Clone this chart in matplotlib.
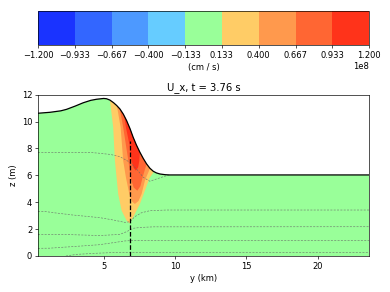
import numpy as np
import matplotlib
matplotlib.use("Agg")
import matplotlib.pyplot as plt
from matplotlib.colors import ListedColormap, BoundaryNorm
from matplotlib.patches import Polygon
import matplotlib.cm as cm

# contour levels of U_x (cm/s) and their fill colours
levels = np.linspace(-1.2e8, 1.2e8, 10)
level_colors = ['#1a33ff', '#3366ff', '#4d99ff', '#66ccff', '#99ff99',
                '#ffcc66', '#ff994d', '#ff6633', '#ff331a']

# free surface
surf_y = [0.4, 1.24, 2.0, 2.4, 3.0, 3.57, 4.1, 4.5, 5.0, 5.2, 5.44, 5.7, 5.91, 6.14,
          6.38, 6.61, 6.85, 7.07, 7.3, 7.54, 7.78, 8.01, 8.24, 8.48, 8.7, 8.95, 9.3,
          9.6, 23.6]
surf_z = [10.62, 10.69, 10.8, 10.91, 11.15, 11.4, 11.58, 11.66, 11.72, 11.7, 11.6, 11.4,
          11.2, 10.94, 10.55, 10.07, 9.47, 8.83, 8.25, 7.72, 7.25, 6.85, 6.53, 6.3, 6.18,
          6.1, 6.05, 6.03, 6.03]

# outlines of the positive-velocity contour bands
yellow_y = [5.44, 5.67, 5.79, 6.02, 6.26, 6.61, 6.8, 7.07, 7.54, 7.89, 8.24, 8.48]
yellow_z = [11.6, 9.57, 7.09, 4.61, 3.37, 2.63, 2.43, 2.88, 3.87, 4.86, 5.85, 6.2]
orange_y = [5.91, 6.19, 6.37, 6.56, 6.8, 7.0, 7.19, 7.45, 7.66, 7.89, 8.24]
orange_z = [11.3, 9.57, 7.09, 5.85, 4.61, 4.05, 3.87, 4.1, 4.61, 5.6, 6.5]
dorange_y = [6.14, 6.37, 6.73, 6.89, 7.1, 7.36, 7.58, 7.73, 8.01]
dorange_z = [10.94, 9.57, 7.09, 5.85, 5.1, 4.86, 5.2, 5.85, 6.85]
red_y = [6.42, 6.56, 6.8, 6.96, 7.1, 7.26, 7.42, 7.5, 7.54]
red_z = [10.57, 9.57, 8.33, 7.09, 6.55, 6.35, 6.6, 7.09, 7.72]
bands = [(5, yellow_y, yellow_z), (6, orange_y, orange_z),
         (7, dorange_y, dorange_z), (8, red_y, red_z)]

# dashed tracer lines
line_a_y = [0.4, 4.1, 4.74, 5.5, 6.14, 6.84, 7.31, 7.78, 8.24, 8.71, 9.18, 9.6]
line_a_z = [7.71, 7.7, 7.64, 7.55, 7.39, 6.97, 6.47, 5.85, 5.56, 5.73, 5.9, 6.03]
line_b_y = [0.4, 0.96, 1.66, 2.83, 3.99, 4.74, 5.67, 6.49, 6.84, 7.19, 7.66, 8.24, 9.41, 23.6]
line_b_z = [3.3, 3.3, 3.2, 3.05, 2.93, 2.85, 2.68, 2.5, 2.55, 2.93, 3.22, 3.37, 3.42, 3.42]
line_c_y = [0.4, 2.36, 4.74, 6.14, 6.61, 7.07, 7.54, 8.5, 23.6]
line_c_z = [1.61, 1.6, 1.52, 1.61, 1.81, 2.06, 2.12, 2.17, 2.18]
line_d_y = [0.4, 1.2, 2.0, 3.4, 4.7, 5.67, 6.49, 7.0, 23.6]
line_d_z = [0.57, 0.58, 0.64, 0.74, 0.84, 0.99, 1.12, 1.15, 1.16]
line_e_y = [2.36, 3.1, 4.4, 5.5, 6.5, 23.6]
line_e_z = [0.0, 0.12, 0.2, 0.25, 0.27, 0.27]
tracer_lines = [(line_a_y, line_a_z), (line_b_y, line_b_z), (line_c_y, line_c_z),
                (line_d_y, line_d_z), (line_e_y, line_e_z)]

# gauge position
gauge_y = 6.85
gauge_top = 8.58

cmap = ListedColormap(level_colors)
norm = BoundaryNorm(levels, cmap.N)

fig = plt.figure(figsize=(6.5, 292 / 60), dpi=60)
cax = fig.add_axes([0.0974, 0.846, 0.849, 0.1175])
ax = fig.add_axes([0.0974, 0.1233, 0.849, 0.5524])

# fluid region, background level colour
fluid = Polygon(list(zip(surf_y, surf_z)) + [(surf_y[-1], 0), (surf_y[0], 0)],
                closed=True, facecolor=level_colors[4], edgecolor='none')
ax.add_patch(fluid)

# positive bands, closed above the surface and clipped to the fluid
for idx, by, bz in bands:
    pts = list(zip(by, bz)) + [(by[-1], 13), (by[0], 13)]
    p = Polygon(pts, closed=True, facecolor=level_colors[idx], edgecolor='none')
    ax.add_patch(p)
    p.set_clip_path(fluid)

for ly, lz in tracer_lines:
    ax.plot(ly, lz, color='0.4', lw=0.8, dashes=(3, 2), alpha=0.8)

ax.plot(surf_y, surf_z, color='k', lw=1.5)
ax.plot([gauge_y, gauge_y], [0, gauge_top], 'k--', lw=1.5)

ax.set_xlim(0.4, 23.6)
ax.set_ylim(0, 12)
ax.set_xticks([5, 10, 15, 20])
ax.set_yticks([0, 2, 4, 6, 8, 10, 12])
ax.set_xlabel('y (km)')
ax.set_ylabel('z (m)')
ax.set_title('U_x, t = 3.76 s')

sm = cm.ScalarMappable(norm=norm, cmap=cmap)
cb = fig.colorbar(sm, cax=cax, orientation='horizontal')
cb.set_ticks(levels)
cb.set_label('(cm / s)')

fig.savefig('out.png', dpi=60)
